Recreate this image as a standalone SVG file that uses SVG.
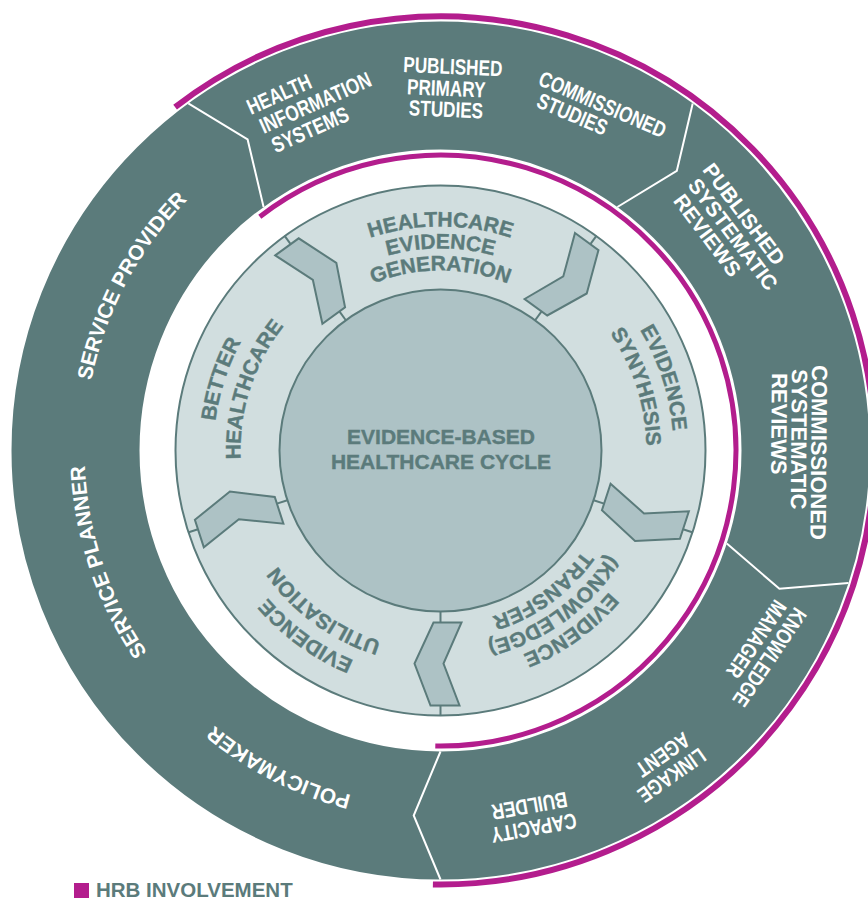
<svg xmlns="http://www.w3.org/2000/svg" width="868" height="900" viewBox="0 0 868 900">
<defs>
<style>
.lbl{font-family:"Liberation Sans",Arial,sans-serif;font-weight:bold;font-size:21px;fill:#5b7b7b;stroke:#5b7b7b;stroke-width:0.4}
.out{font-family:"Liberation Sans",Arial,sans-serif;font-weight:bold;font-size:21px;fill:#ffffff}
.cond{font-family:"Liberation Sans",Arial,sans-serif;font-weight:bold;font-size:22px;fill:#ffffff}
.arrow{fill:#adc2c5;stroke:#5b7b7b;stroke-width:2;stroke-linejoin:miter}
.tick{stroke:#5b7b7b;stroke-width:2}
.sep{fill:none;stroke:#ffffff;stroke-width:2;stroke-linejoin:miter}
.hrb{fill:none;stroke:#b31d8d}
</style>
<path id="c174" d="M440.5,624.5 A174,174 0 1 1 440.5,276.5 A174,174 0 1 1 440.5,624.5"/>
<path id="c180" d="M440.5,630.5 A180,180 0 1 1 440.5,270.5 A180,180 0 1 1 440.5,630.5"/>
<path id="c197" d="M440.5,647.5 A197,197 0 1 1 440.5,253.5 A197,197 0 1 1 440.5,647.5"/>
<path id="c200" d="M440.5,650.5 A200,200 0 1 1 440.5,250.5 A200,200 0 1 1 440.5,650.5"/>
<path id="c202" d="M440.5,652.5 A202,202 0 1 1 440.5,248.5 A202,202 0 1 1 440.5,652.5"/>
<path id="c206" d="M440.5,656.5 A206,206 0 1 1 440.5,244.5 A206,206 0 1 1 440.5,656.5"/>
<path id="c220" d="M440.5,670.5 A220,220 0 1 1 440.5,230.5 A220,220 0 1 1 440.5,670.5"/>
<path id="c224" d="M440.5,674.5 A224,224 0 1 1 440.5,226.5 A224,224 0 1 1 440.5,674.5"/>
<path id="c227" d="M440.5,677.5 A227,227 0 1 1 440.5,223.5 A227,227 0 1 1 440.5,677.5"/>
<path id="c233" d="M440.5,683.5 A233,233 0 1 1 440.5,217.5 A233,233 0 1 1 440.5,683.5"/>
<path id="c356" d="M440.5,806.5 A356,356 0 1 1 440.5,94.5 A356,356 0 1 1 440.5,806.5"/>
<g id="arrowShape">
<polygon class="arrow" points="421.5,195.5 450.5,195.5 466.5,237.5 447.5,278.5 419.5,278.5 437.5,237.5"/>
<line class="tick" x1="440.5" y1="289.5" x2="440.5" y2="278.5"/>
<line class="tick" x1="440.5" y1="195.5" x2="440.5" y2="185"/>
</g>
</defs>
<rect width="868" height="900" fill="#ffffff"/>

<g id="outer-ring">
<circle cx="440.5" cy="450.5" r="365" fill="none" stroke="#5b7b7b" stroke-width="128"/>
</g>

<g id="hrb-involvement-arcs">
<path class="hrb" stroke-width="6" d="M175.1,107.1 A434,434 0 1 1 432.9,884.4"/>
<path class="hrb" stroke-width="5" d="M259.8,216.7 A295.5,295.5 0 1 1 435.3,746"/>
</g>

<g id="segment-dividers">
<polyline class="sep" points="188.3,103.4 247.6,139.4 263.6,207"/>
<polyline class="sep" points="692.7,103.4 676.8,170.9 617.4,207"/>
<polyline class="sep" points="848.5,583.1 779.4,588.8 726.8,543.5"/>
<polyline class="sep" points="440.5,879.5 413.7,815.5 440.5,751.5"/>
</g>

<g id="cycle-ring">
<circle cx="440.5" cy="450.5" r="265" fill="#d1dedf" stroke="#5b7b7b" stroke-width="2"/>
</g>

<g id="evidence-based-healthcare-cycle">
<circle cx="440.5" cy="450.5" r="161" fill="#adc2c5" stroke="#5b7b7b" stroke-width="2"/>
<text class="lbl" text-anchor="middle"><tspan x="441" y="444">EVIDENCE-BASED</tspan><tspan x="441" y="469">HEALTHCARE CYCLE</tspan></text>
</g>

<g id="connectors">
<use href="#arrowShape" transform="rotate(-36 440.5 450.5)"/>
<use href="#arrowShape" transform="rotate(36 440.5 450.5)"/>
<use href="#arrowShape" transform="rotate(108 440.5 450.5)"/>
<use href="#arrowShape" transform="rotate(180 440.5 450.5)"/>
<use href="#arrowShape" transform="rotate(252 440.5 450.5)"/>
</g>

<g id="healthcare-evidence-generation">
<text class="lbl" text-anchor="middle"><textPath href="#c224" startOffset="50%">HEALTHCARE</textPath></text>
<text class="lbl" text-anchor="middle"><textPath href="#c202" startOffset="50%">EVIDENCE</textPath></text>
<text class="lbl" text-anchor="middle"><textPath href="#c180" startOffset="50%">GENERATION</textPath></text>
</g>
<g id="evidence-synthesis">
<text class="lbl" text-anchor="middle"><textPath href="#c233" startOffset="70%">EVIDENCE</textPath></text>
<text class="lbl" text-anchor="middle"><textPath href="#c206" startOffset="70%">SYNYHESIS</textPath></text>
</g>
<g id="evidence-transfer">
<text class="lbl" text-anchor="middle"><textPath href="#c220" startOffset="90%">EVIDENCE</textPath></text>
<text class="lbl" text-anchor="middle"><textPath href="#c197" startOffset="90%">(KNOWLEDGE)</textPath></text>
<text class="lbl" text-anchor="middle"><textPath href="#c174" startOffset="90%">TRANSFER</textPath></text>
</g>
<g id="evidence-utilisation">
<text class="lbl" text-anchor="middle"><textPath href="#c227" startOffset="10%">EVIDENCE</textPath></text>
<text class="lbl" text-anchor="middle"><textPath href="#c200" startOffset="10%">UTILISATION</textPath></text>
</g>
<g id="better-healthcare">
<text class="lbl" text-anchor="middle"><textPath href="#c227" startOffset="30%">BETTER</textPath></text>
<text class="lbl" text-anchor="middle"><textPath href="#c200" startOffset="30%">HEALTHCARE</textPath></text>
</g>

<g id="service-provider">
<text class="out" text-anchor="middle"><textPath href="#c356" startOffset="32.78%">SERVICE PROVIDER</textPath></text>
</g>
<g id="service-planner">
<text class="out" text-anchor="middle"><textPath href="#c356" startOffset="19.86%">SERVICE PLANNER</textPath></text>
</g>
<g id="policymaker">
<text class="out" text-anchor="middle"><textPath href="#c356" startOffset="7.5%">POLICYMAKER</textPath></text>
</g>

<g id="health-information-systems" transform="translate(251,115) rotate(-24) scale(0.78,1)">
<text class="cond"><tspan x="0" y="0">HEALTH</tspan><tspan x="5" y="22.5">INFORMATION</tspan><tspan x="9" y="45">SYSTEMS</tspan></text>
</g>
<g id="published-primary-studies" transform="translate(403,72) rotate(2.5) scale(0.78,1)">
<text class="cond"><tspan x="0" y="0">PUBLISHED</tspan><tspan x="6" y="22">PRIMARY</tspan><tspan x="9.5" y="43">STUDIES</tspan></text>
</g>
<g id="commissioned-studies" transform="translate(537,84.4) rotate(23.3) scale(0.78,1)">
<text class="cond"><tspan x="0" y="0">COMMISSIONED</tspan><tspan x="9" y="21">STUDIES</tspan></text>
</g>
<g id="published-systematic-reviews" transform="translate(701.7,170) rotate(53)">
<text class="out"><tspan x="0" y="0">PUBLISHED</tspan><tspan x="3.4" y="21">SYSTEMATIC</tspan><tspan x="7.2" y="42">REVIEWS</tspan></text>
</g>
<g id="commissioned-systematic-reviews" transform="translate(812,365) rotate(90.5)">
<text class="out" style="font-size:22px"><tspan x="0" y="0">COMMISSIONED</tspan><tspan x="4.3" y="20">SYSTEMATIC</tspan><tspan x="8.3" y="40">REVIEWS</tspan></text>
</g>
<g id="knowledge-manager" transform="translate(795,606) rotate(124) scale(0.78,1)">
<text class="cond"><tspan x="0" y="0">KNOWLEDGE</tspan><tspan x="6" y="21">MANAGER</tspan></text>
</g>
<g id="linkage-agent" transform="translate(699,747) rotate(145) scale(0.78,1)">
<text class="cond"><tspan x="0" y="0">LINKAGE</tspan><tspan x="5" y="22">AGENT</tspan></text>
</g>
<g id="capacity-builder" transform="translate(575,813) rotate(170) scale(0.78,1)">
<text class="cond"><tspan x="0" y="0">CAPACITY</tspan><tspan x="7" y="22.5">BUILDER</tspan></text>
</g>

<g id="legend">
<rect x="74" y="883" width="15" height="15" fill="#b31d8d"/>
<text x="96" y="897" style="font-family:'Liberation Sans',Arial,sans-serif;font-weight:bold;font-size:20.5px;fill:#5b7b7b">HRB INVOLVEMENT</text>
</g>
</svg>
